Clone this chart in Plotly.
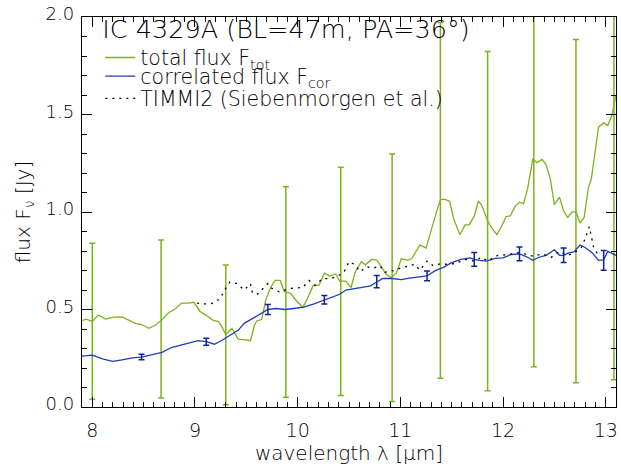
import plotly.graph_objects as go

# ---- data ----
tot_x = [7.90, 7.94, 8.00, 8.06, 8.13, 8.21, 8.29, 8.42, 8.48, 8.55, 8.61, 8.68, 8.74, 8.81, 8.87,
         8.94, 8.99, 9.05, 9.11, 9.18, 9.23, 9.26, 9.30, 9.36, 9.42, 9.48, 9.54, 9.58, 9.60, 9.65,
         9.69, 9.74, 9.78, 9.83, 9.87, 9.93, 9.98, 10.05, 10.09, 10.15, 10.21, 10.26, 10.31, 10.37,
         10.41, 10.47, 10.52, 10.56, 10.62, 10.66, 10.72, 10.77, 10.82, 10.86, 10.91, 10.96, 11.01,
         11.07, 11.11, 11.19, 11.25, 11.29, 11.32, 11.35, 11.39, 11.43, 11.48, 11.52, 11.58, 11.63,
         11.67, 11.72, 11.76, 11.79, 11.85, 11.89, 11.94, 11.99, 12.03, 12.07, 12.12, 12.16, 12.20,
         12.24, 12.29, 12.33, 12.38, 12.42, 12.46, 12.50, 12.55, 12.59, 12.63, 12.67, 12.71, 12.75,
         12.79, 12.83, 12.86, 12.90, 12.93, 12.98, 13.02, 13.06, 13.10]
tot_y = [0.443, 0.450, 0.439, 0.472, 0.451, 0.461, 0.462, 0.429, 0.423, 0.404, 0.418, 0.448, 0.482,
         0.504, 0.533, 0.533, 0.537, 0.490, 0.470, 0.444, 0.438, 0.414, 0.371, 0.404, 0.348, 0.346,
         0.340, 0.420, 0.440, 0.450, 0.550, 0.616, 0.649, 0.649, 0.591, 0.583, 0.550, 0.510, 0.550,
         0.621, 0.626, 0.686, 0.671, 0.682, 0.646, 0.646, 0.613, 0.691, 0.745, 0.729, 0.757, 0.753,
         0.716, 0.682, 0.663, 0.686, 0.760, 0.753, 0.760, 0.831, 0.815, 0.890, 0.947, 0.997, 1.063,
         1.066, 1.055, 0.964, 0.884, 0.934, 0.934, 0.980, 1.055, 1.038, 0.955, 0.917, 0.884, 0.931,
         0.977, 0.980, 1.030, 1.050, 1.043, 1.121, 1.273, 1.253, 1.270, 1.242, 1.170, 1.038, 1.076,
         1.005, 0.972, 1.000, 1.002, 0.944, 0.972, 1.121, 1.170, 1.311, 1.435, 1.457, 1.443, 1.496,
         1.600]

tot_err_x = [8.00, 8.67, 9.30, 9.885, 10.42, 10.92, 11.39, 11.85, 12.30, 12.71, 13.08]
tot_err_y = [0.440, 0.451, 0.370, 0.590, 0.644, 0.663, 1.060, 0.953, 1.270, 1.005, 1.550]
tot_err = [0.400, 0.405, 0.358, 0.540, 0.585, 0.635, 0.912, 0.870, 1.064, 0.880, 1.410]

cor_x = [7.90, 8.00, 8.10, 8.20, 8.29, 8.39, 8.48, 8.58, 8.68, 8.77, 8.87, 8.97, 9.03, 9.11, 9.19,
         9.26, 9.34, 9.42, 9.48, 9.55, 9.64, 9.71, 9.79, 9.88, 9.96, 10.06, 10.16, 10.26, 10.35,
         10.41, 10.47, 10.58, 10.71, 10.77, 10.83, 10.92, 11.01, 11.09, 11.17, 11.26, 11.34, 11.42,
         11.50, 11.59, 11.68, 11.72, 11.77, 11.84, 11.92, 12.00, 12.08, 12.16, 12.22, 12.29, 12.35,
         12.42, 12.50, 12.55, 12.59, 12.64, 12.69, 12.75, 12.80, 12.87, 12.93, 12.98, 13.02, 13.07,
         13.10]
cor_y = [0.261, 0.266, 0.247, 0.234, 0.242, 0.252, 0.256, 0.269, 0.280, 0.305, 0.319, 0.335, 0.340,
         0.335, 0.322, 0.341, 0.368, 0.393, 0.429, 0.451, 0.475, 0.500, 0.505, 0.500, 0.505, 0.512,
         0.529, 0.550, 0.567, 0.578, 0.600, 0.608, 0.621, 0.641, 0.659, 0.659, 0.653, 0.661, 0.666,
         0.672, 0.699, 0.716, 0.740, 0.757, 0.765, 0.757, 0.752, 0.748, 0.762, 0.765, 0.782, 0.785,
         0.773, 0.752, 0.768, 0.778, 0.806, 0.778, 0.778, 0.790, 0.795, 0.831, 0.818, 0.790, 0.752,
         0.755, 0.798, 0.785, 0.778]

cor_err_x = [8.48, 9.11, 9.71, 10.26, 10.77, 11.26, 11.72, 12.16, 12.59, 12.98]
cor_err_y = [0.256, 0.335, 0.500, 0.550, 0.643, 0.672, 0.757, 0.785, 0.778, 0.752]
cor_err = [0.014, 0.018, 0.026, 0.022, 0.031, 0.025, 0.035, 0.035, 0.037, 0.051]

timmi_x = [9.02, 9.08, 9.16, 9.24, 9.29, 9.34, 9.41, 9.48, 9.54, 9.56, 9.61, 9.71, 9.75, 9.82,
           9.93, 10.05, 10.11, 10.17, 10.24, 10.32, 10.40, 10.45, 10.50, 10.55, 10.61, 10.67,
           10.74, 10.80, 10.85, 10.93, 11.00, 11.06, 11.14, 11.19, 11.26, 11.32, 11.38, 11.43,
           11.53, 11.63, 11.72, 11.79, 11.85, 11.95, 12.05, 12.14, 12.21, 12.29, 12.38, 12.47,
           12.55, 12.63, 12.69, 12.76, 12.80, 12.84, 12.86, 12.88, 12.92]
timmi_y = [0.533, 0.529, 0.530, 0.553, 0.600, 0.641, 0.633, 0.600, 0.633, 0.583, 0.579, 0.633,
           0.608, 0.591, 0.608, 0.613, 0.649, 0.624, 0.658, 0.658, 0.674, 0.691, 0.745, 0.732,
           0.694, 0.719, 0.712, 0.724, 0.691, 0.699, 0.712, 0.719, 0.732, 0.702, 0.748, 0.724,
           0.733, 0.732, 0.735, 0.757, 0.748, 0.768, 0.748, 0.778, 0.782, 0.790, 0.785, 0.773,
           0.785, 0.768, 0.798, 0.778, 0.790, 0.815, 0.864, 0.925, 0.881, 0.823, 0.785]

x_ticks = [8, 9, 10, 11, 12, 13]
y_ticks = [0.0, 0.5, 1.0, 1.5, 2.0]
y_tick_text = ["0.0", "0.5", "1.0", "1.5", "2.0"]

GREEN = "#7db21c"
BLUE = "#1f3db8"
NAVY = "#10229a"
FONT = "DejaVu Sans"
W = 200  # light weight

fig = go.Figure()

fig.add_trace(go.Scatter(x=tot_err_x, y=tot_err_y, mode="markers",
                         marker=dict(size=1, color="rgba(0,0,0,0)"),
                         error_y=dict(type="data", array=tot_err, color=GREEN,
                                      thickness=1.5, width=3),
                         showlegend=False, hoverinfo="skip"))
fig.add_trace(go.Scatter(x=tot_x, y=tot_y, mode="lines",
                         line=dict(color=GREEN, width=1.3),
                         name="total flux F<sub>tot</sub>", legend="legend"))
fig.add_trace(go.Scatter(x=cor_x, y=cor_y, mode="lines",
                         line=dict(color=BLUE, width=1.3),
                         name="correlated flux F<sub>cor</sub>", legend="legend2"))
fig.add_trace(go.Scatter(x=timmi_x, y=timmi_y, mode="lines",
                         line=dict(color="black", width=1.3, dash="2px,5px"),
                         name="TIMMI2 (Siebenmorgen et al.)", legend="legend3"))
fig.add_trace(go.Scatter(x=cor_err_x, y=cor_err_y, mode="markers",
                         marker=dict(size=1, color="rgba(0,0,0,0)"),
                         error_y=dict(type="data", array=cor_err, color=NAVY,
                                      thickness=1.5, width=3),
                         showlegend=False, hoverinfo="skip"))

axis_common = dict(showline=True, linecolor="black", linewidth=1.3, mirror="ticks",
                   ticks="inside", ticklen=10, tickwidth=1, tickcolor="black",
                   showgrid=False, zeroline=False, ticklabeloverflow="allow")

fig.update_xaxes(range=[7.9, 13.1], tickvals=x_ticks,
                 minor=dict(dtick=0.1, tick0=8, ticks="inside", ticklen=5, tickcolor="black",
                            showgrid=False),
                 ticklabelstandoff=6,
                 tickfont=dict(family=FONT, size=19, color="black", weight=W),
                 title=dict(text="wavelength λ [μm]",
                            font=dict(family=FONT, size=20, color="black", weight=W),
                            standoff=0),
                 **axis_common)
fig.update_yaxes(range=[0, 2.0], tickvals=y_ticks, ticktext=y_tick_text,
                 minor=dict(dtick=0.1, tick0=0, ticks="inside", ticklen=5, tickcolor="black",
                            showgrid=False),
                 ticklabelstandoff=3, ticklabelshift=-3,
                 tickfont=dict(family=FONT, size=18, color="black", weight=W),
                 title=dict(text="flux F<sub>ν</sub> [Jy]",
                            font=dict(family=FONT, size=20, color="black", weight=W),
                            standoff=9),
                 **axis_common)

leg_common = dict(x=0.0343, xanchor="left", bgcolor="rgba(0,0,0,0)", borderwidth=0,
                  font=dict(family=FONT, size=20.5, color="black", weight=W), itemwidth=30)

fig.update_layout(
    width=621, height=471,
    margin=dict(l=82, r=3, t=4.5, b=63.5),
    paper_bgcolor="white", plot_bgcolor="white",
    font=dict(family=FONT, color="black"),
    showlegend=True,
    legend=dict(y=1.032, yanchor="top",
                title=dict(text="IC 4329A (BL=47m, PA=36°)",
                           font=dict(family=FONT, size=25.5, color="black", weight=W)),
                **leg_common),
    legend2=dict(y=0.848, yanchor="middle", **leg_common),
    legend3=dict(y=0.791, yanchor="middle", **leg_common),
)

fig.write_html("out.html", config={"displayModeBar": False},
               post_script="document.body.style.margin='0px';")
